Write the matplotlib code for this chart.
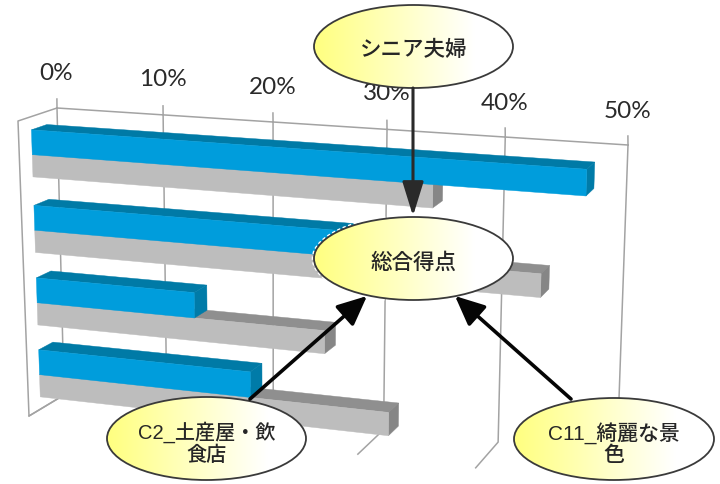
import numpy as np
import matplotlib
matplotlib.use("Agg")
import matplotlib.pyplot as plt
from matplotlib.patches import Polygon, Ellipse, FancyArrowPatch, Arc

# ---- data (percent) ----
tick_values = [0, 10, 20, 30, 40, 50]
tick_labels = ["0%", "10%", "20%", "30%", "40%", "50%"]
blue_values = [47.8, 33.0, 14.7, 19.7]
gray_values = [35.4, 44.4, 26.3, 31.9]
bubble_texts = ["シニア夫婦", "総合得点", "C2_土産屋・飲\n食店", "C11_綺麗な景\n色"]

# ---- perspective box (pixel corners of the chart's 3-D frame) ----
BTL, BTR = np.array([57., 108.]), np.array([628., 145.])
BBL, BBR = np.array([64., 395.]), np.array([617., 455.])
FTL, FTR = np.array([18., 121.]), np.array([609., 163.])
FBL, FBR = np.array([29., 416.]), np.array([598., 482.])
A = 0.913
VMAX = 50.0


def P(v, r, d):
    """value v, row position r (0 top..1 bottom), depth d (0 back..1 front)."""
    u = v / VMAX
    t = A * u / (1 + (A - 1) * u)
    back = (1 - r) * ((1 - t) * BTL + t * BTR) + r * ((1 - t) * BBL + t * BBR)
    front = (1 - r) * ((1 - t) * FTL + t * FTR) + r * ((1 - t) * FBL + t * FBR)
    return (1 - d) * back + d * front


fig = plt.figure(figsize=(7.2, 4.84), dpi=100, facecolor="white")
ax = fig.add_axes([0, 0, 1, 1])
ax.set_xlim(0, 720)
ax.set_ylim(484, 0)
ax.axis("off")

GRID = "#a3a3a3"
# walls
ax.plot(*zip(P(0, 0, 0), P(VMAX, 0, 0)), color=GRID, lw=1.1, zorder=1)
ax.plot(*zip(P(0, 0, 0), P(0, 0, 1), P(0, 1, 1), P(0, 1, 0)), color=GRID, lw=1.1, zorder=1)
for v, lab, lx, ly in zip(tick_values, tick_labels,
                          [56, 163, 273, 387, 505, 628], [73, 79, 87, 94, 103, 111]):
    top = P(v, 0, 0)
    floor_end = 0.8 if v == VMAX else 1
    ax.plot([top[0], top[0] - 0.1], [top[1], top[1] - 9], color=GRID, lw=1.1, zorder=1)
    ax.plot(*zip(P(v, 0, 0), P(v, 1, 0), P(v, 1, floor_end)), color=GRID, lw=1.1, zorder=1)
    ax.text(lx, ly, lab, ha="center", va="center", fontsize=17.5, family="Lato",
            color="#2a2a2a", zorder=2)

# bars
D0, D1 = 0.27, 0.667
ROW_OFFSETS = (0.0, 0.2585, 0.5065, 0.7525)
R_BLUE_TOP, R_SPLIT, R_GRAY_BOT = 0.045, 0.130, 0.206
COL_BLUE = ("#009ddc", "#007aa6", "#007ba8")
COL_GRAY = ("#bdbdbd", "#8f8f8f", "#868686")


def bar3d(v, r0, r1, cols, z):
    faces = [
        ([P(0, r0, D1), P(v, r0, D1), P(v, r0, D0), P(0, r0, D0)], cols[1]),
        ([P(v, r0, D1), P(v, r1, D1), P(v, r1, D0), P(v, r0, D0)], cols[2]),
        ([P(0, r0, D1), P(v, r0, D1), P(v, r1, D1), P(0, r1, D1)], cols[0]),
    ]
    for pts, c in faces:
        ax.add_patch(Polygon(pts, closed=True, facecolor=c, edgecolor=c, lw=0.3, zorder=z))


for i, (bv, gv) in enumerate(zip(blue_values, gray_values)):
    off = ROW_OFFSETS[i]
    bar3d(gv, off + R_SPLIT, off + R_GRAY_BOT, COL_GRAY, 3 + i * 0.1)
    bar3d(bv, off + R_BLUE_TOP, off + R_SPLIT, COL_BLUE, 3.05 + i * 0.1)

# bubbles
centers = [(413.5, 46.5), (413.5, 258.5), (206.5, 438.5), (614, 439)]
semi = [(99.5, 41.5), (99.5, 41.5), (99.5, 41.5), (100, 41)]
text_y = [50, 263, 443.5, 443.5]
grad = np.ones((2, 256, 3))
xs = np.linspace(0, 1, 256)
grad[:, :, 2] = np.clip(0.5 + 0.62 * xs, 0, 1)
text_fonts = ["Liberation Sans", "Noto Sans CJK JP"]
text_sizes = [15.5, 15.5, 14.5, 15]
for k, ((cx, cy), (a, b), txt, fs, ty) in enumerate(zip(centers, semi, bubble_texts, text_sizes, text_y)):
    im = ax.imshow(grad, extent=(cx - a, cx + a, cy + b, cy - b), aspect="auto", zorder=6)
    clip = Ellipse((cx, cy), 2 * a, 2 * b, transform=ax.transData, facecolor="none", edgecolor="none")
    ax.add_patch(clip)
    im.set_clip_path(clip)
    if k == 1:
        ax.add_patch(Arc((cx, cy), 2 * a + 3, 2 * b + 3, theta1=125, theta2=285, edgecolor="white",
                         lw=1.2, ls=(0, (2, 1.5)), zorder=5.9))
    ax.add_patch(Ellipse((cx, cy), 2 * a, 2 * b, facecolor="none", edgecolor="#3a3a3a",
                         lw=1.3, zorder=7))
    ax.text(cx, ty, txt, ha="center", va="center", fontsize=fs, family=text_fonts,
            fontweight="medium", color="#262626", linespacing=1.15, zorder=8)
ax.set_xlim(0, 720)
ax.set_ylim(484, 0)

# arrows
arrows = [((413, 88), (413, 216), 21, 6.5, 2.2, "#2a2a2a"),
          ((250, 399), (367, 296), 18, 8.2, 2.6, "#050505"),
          ((571, 399), (455, 296), 18, 8.2, 2.6, "#050505")]
for a0, a1, hl, hw, lw, col in arrows:
    ax.add_patch(FancyArrowPatch(a0, a1, arrowstyle=f"-|>,head_length={hl},head_width={hw}",
                                 mutation_scale=1, shrinkA=0, shrinkB=0, lw=lw,
                                 color=col, zorder=9))

fig.savefig("out.png", dpi=100, facecolor="white")
